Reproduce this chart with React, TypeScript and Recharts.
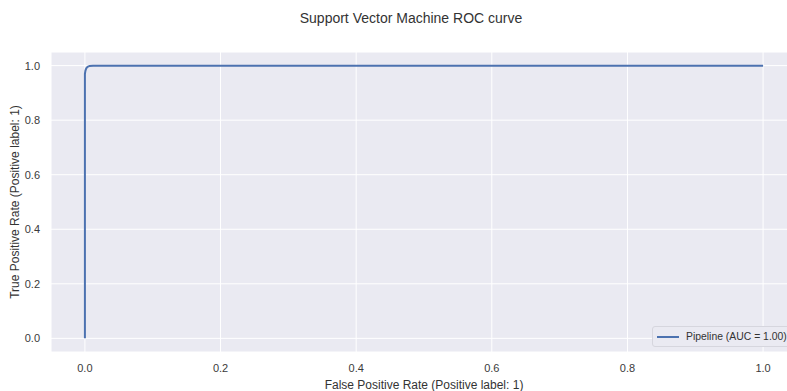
import { LineChart, Line, XAxis, YAxis, CartesianGrid, Label } from "recharts";

// ROC curve points
const fpr = [0, 0, 0.0008, 0.002, 0.004, 0.007, 0.012, 1.0];
const tpr = [0, 0.97, 0.982, 0.99, 0.996, 0.999, 1.0, 1.0];
const ticks = [0, 0.2, 0.4, 0.6, 0.8, 1.0];
const seriesName = "Pipeline (AUC = 1.00)";

const data = fpr.map((x, i) => ({ fpr: x, tpr: tpr[i] }));

const font = "'Liberation Sans', Arial, sans-serif";
const tickStyle = { fontSize: 11, fill: "#3a3a3a", fontFamily: font };

function LegendBox() {
  return (
    <div
      style={{
        position: "absolute",
        left: 652,
        top: 326,
        height: 19,
        display: "flex",
        alignItems: "center",
        background: "#EAEAF2",
        border: "1px solid #d6d6de",
        borderRadius: 3,
        padding: "0 6px 0 4px",
        fontFamily: font,
        fontSize: 10.4,
        color: "#333",
        whiteSpace: "nowrap",
      }}
    >
      <span style={{ display: "inline-block", width: 22, height: 2, background: "#4C72B0", marginRight: 7 }} />
      {seriesName}
    </div>
  );
}

export default function App() {
  return (
    <div style={{ position: "absolute", left: 0, top: 0, width: 787, height: 391, overflow: "hidden", background: "#fff" }}>
      <div
        style={{
          position: "absolute",
          left: 0,
          width: 822,
          top: 10,
          textAlign: "center",
          fontFamily: font,
          fontSize: 14,
          color: "#333",
        }}
      >
        Support Vector Machine ROC curve
      </div>
      <LineChart width={800} height={391} data={data} margin={{ top: 52, right: 3, left: 0, bottom: 0 }}>
        <CartesianGrid fill="#EAEAF2" stroke="#ffffff" strokeWidth={1} />
        <XAxis
          dataKey="fpr"
          type="number"
          domain={[-0.05, 1.05]}
          ticks={ticks}
          allowDataOverflow
          axisLine={false}
          tickLine={false}
          tickSize={0}
          tickMargin={12}
          height={39}
          tick={tickStyle}
          tickFormatter={(v: number) => v.toFixed(1)}
        >
          <Label
            value="False Positive Rate (Positive label: 1)"
            position="insideBottom"
            offset={2}
            style={{ fontSize: 12, fill: "#333", fontFamily: font }}
          />
        </XAxis>
        <YAxis
          type="number"
          domain={[-0.05, 1.05]}
          ticks={ticks}
          allowDataOverflow
          axisLine={false}
          tickLine={false}
          tickSize={0}
          tickMargin={11}
          width={51}
          tick={tickStyle}
          tickFormatter={(v: number) => v.toFixed(1)}
        >
          <Label
            value="True Positive Rate (Positive label: 1)"
            angle={-90}
            position="insideLeft"
            offset={15}
            style={{ fontSize: 12, fill: "#333", fontFamily: font, textAnchor: "middle" }}
          />
        </YAxis>
        <Line
          dataKey="tpr"
          name={seriesName}
          type="linear"
          stroke="#4C72B0"
          strokeWidth={2}
          dot={false}
          isAnimationActive={false}
        />
      </LineChart>
      <LegendBox />
    </div>
  );
}
